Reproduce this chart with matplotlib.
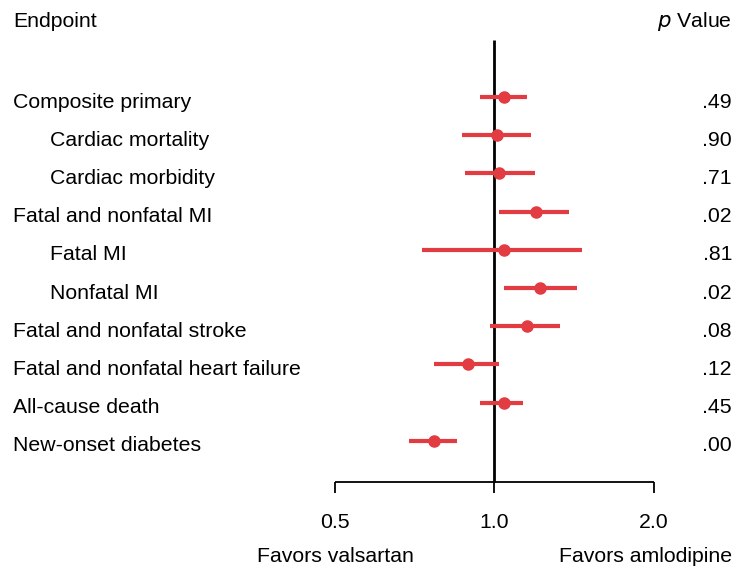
import numpy as np
import matplotlib.pyplot as plt

plt.rcParams['font.family'] = ['Liberation Sans', 'DejaVu Sans']

# данные
endpoints = ['Composite primary', 'Cardiac mortality', 'Cardiac morbidity',
             'Fatal and nonfatal MI', 'Fatal MI', 'Nonfatal MI',
             'Fatal and nonfatal stroke', 'Fatal and nonfatal heart failure',
             'All-cause death', 'New-onset diabetes']
indent = [0, 1, 1, 0, 1, 1, 0, 0, 0, 0]
hr = [1.04, 1.01, 1.02, 1.20, 1.04, 1.22, 1.15, 0.89, 1.04, 0.77]
ci_low = [0.94, 0.87, 0.88, 1.02, 0.73, 1.04, 0.98, 0.77, 0.94, 0.69]
ci_high = [1.15, 1.17, 1.19, 1.38, 1.46, 1.43, 1.33, 1.02, 1.13, 0.85]
p_values = ['.49', '.90', '.71', '.02', '.81', '.02', '.08', '.12', '.45', '.00']
ticks = [0.5, 1.0, 2.0]
tick_labels = ['0.5', '1.0', '2.0']

red = '#e23b41'
fs = 15.3

fig = plt.figure(figsize=(7.51, 5.69), dpi=100)
ax = fig.add_axes([0, 0, 1, 1])
ax.set_xscale('log', base=2)
ax.set_xlim(2 ** -3.100, 2 ** 1.608)
ax.set_ylim(569, 0)
ax.axis('off')

y = 97 + 38.2 * np.arange(len(endpoints))

# линия без эффекта
ax.vlines(1.0, 40, 482, color='black', lw=2.0, zorder=2)

ax.hlines(y, ci_low, ci_high, color=red, lw=3.0, zorder=3)
ax.plot(hr, y, 'o', color=red, ms=8, zorder=4)

trans = ax.get_yaxis_transform()
for i, name in enumerate(endpoints):
    x0 = 13 / 751 if indent[i] == 0 else 50 / 751
    ax.text(x0, y[i] + 5, name, transform=trans, fontsize=fs, va='center', ha='left')
    ax.text(732 / 751, y[i] + 5, p_values[i], transform=trans,
            fontsize=fs, va='center', ha='right')

ax.text(13 / 751, 21, 'Endpoint', transform=trans, fontsize=fs, va='center', ha='left')
ax.text(732 / 751, 21, r'$\it{p}$ Value', transform=trans, fontsize=fs,
        va='center', ha='right')

# ось
ax.hlines(482, ticks[0], ticks[-1], color='black', lw=1.3)
ax.vlines(ticks, 482, 493, color='black', lw=1.3)
for t, lab in zip(ticks, tick_labels):
    ax.text(t, 522, lab, fontsize=fs, ha='center', va='center')

ax.text(0.5, 557, 'Favors valsartan', fontsize=fs, ha='center', va='center')
ax.text(2.0 * 0.965, 557, 'Favors amlodipine', fontsize=fs, ha='center', va='center')

plt.savefig('out.png', dpi=100)
